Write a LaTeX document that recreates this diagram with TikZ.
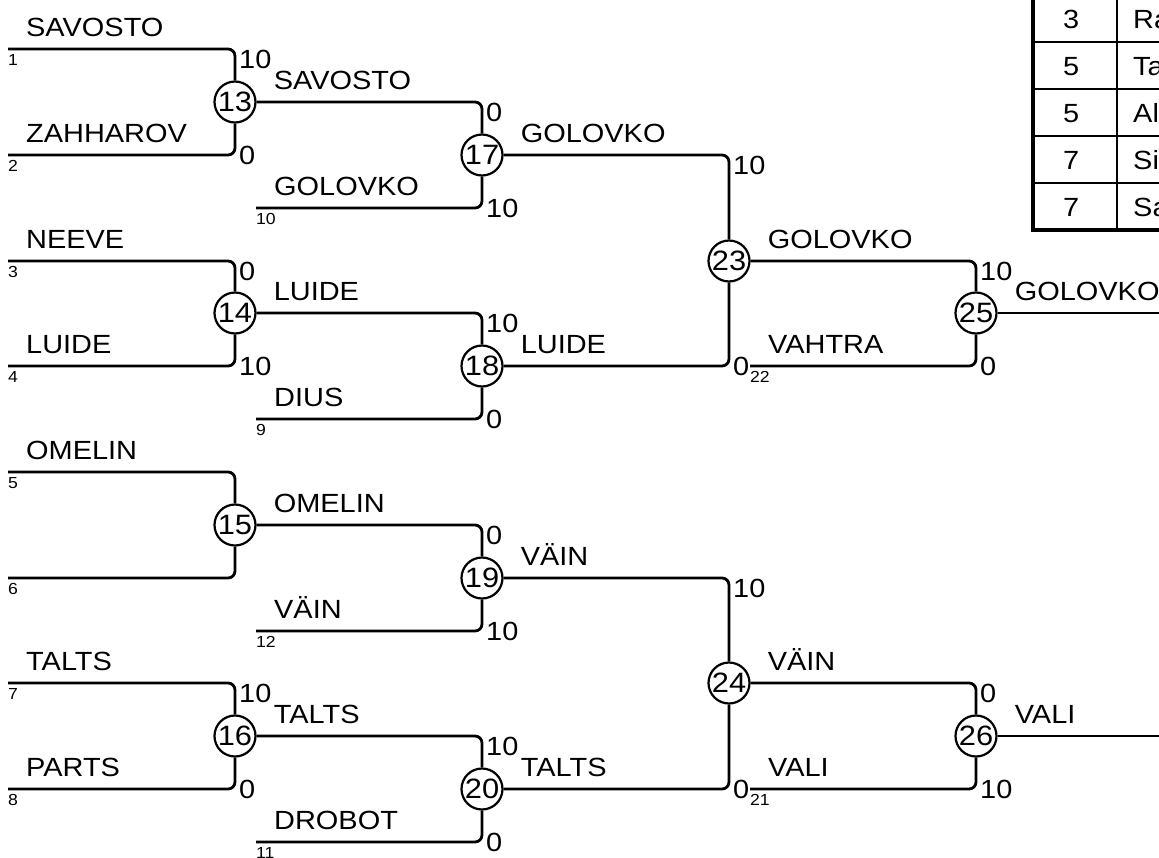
\documentclass[tikz,border=0pt]{standalone}
\usepackage{fontspec}
\setmainfont{Liberation Sans}[FakeStretch=1.1]
\usetikzlibrary{matrix,calc}
\newcommand{\bigfont}{\fontsize{26.3}{30}\selectfont}
\newcommand{\gamefont}{\fontsize{28}{30}\selectfont}
\newcommand{\seedfont}{\fontsize{16}{18}\selectfont}
\tikzset{
	game/.style     = {shape=circle, draw, line width=2.2pt,
		fill=white, minimum size=41pt,
		inner sep=0pt, font=\gamefont},
	bracket/.style  = {line width=2.8pt, rounded corners=7pt},
	player/.style   = {anchor=base west, inner sep=0pt, font=\bigfont},
	seed/.style     = {anchor=north west, inner sep=0pt, font=\seedfont},
	topscore/.style = {anchor=north west, inner sep=0pt, font=\bigfont},
	lowscore/.style = {anchor=west, inner sep=0pt, font=\bigfont}
}

\begin{document}
\begin{tikzpicture}[x=1pt,y=-1pt]
	\useasboundingbox (0,0) rectangle (1159,857);

	\foreach \g/\x/\y in {13/235/102, 14/235/313, 15/235/525, 16/235/736,
		17/482/155, 18/482/366, 19/482/578, 20/482/789,
		23/729/261, 24/729/683, 25/976/313, 26/976/736}
		\node[game] (g\g) at (\x,\y) {\g};

	\foreach \n/\x/\y/\who in {1/8/49/SAVOSTO, 2/8/155/ZAHHAROV,
		3/8/261/NEEVE, 4/8/366/LUIDE, 5/8/472/OMELIN,
		7/8/683/TALTS, 8/8/789/PARTS,
		10/256/208/GOLOVKO, 9/256/419/DIUS, 12/256/631/VÄIN, 11/256/842/DROBOT,
		22/750/366/VAHTRA, 21/750/789/VALI}{
		\coordinate (s\n) at (\x,\y);
		\node[seed]   (n\n) at ($(s\n)+(0,5)$)    {\n};
		\node[player] (p\n) at ($(s\n)+(18,-13)$) {\who};
	}
	\coordinate (s6) at (8,578);
	\node[seed] (n6) at ($(s6)+(0,5)$) {6};

	\foreach \a/\b in {s1/g13, s2/g13, s3/g14, s4/g14, s5/g15, s6/g15, s7/g16, s8/g16,
		g13/g17, s10/g17, g14/g18, s9/g18, g15/g19, s12/g19, g16/g20, s11/g20,
		g17/g23, g18/g23, g19/g24, g20/g24, g23/g25, s22/g25, g24/g26, s21/g26}
		\draw[bracket] (\a) -| (\b);

	\foreach \a/\b/\s in {s1/g13/10, s3/g14/0, s7/g16/10, g13/g17/0, g14/g18/10,
		g15/g19/0, g16/g20/10, g17/g23/10, g19/g24/10, g23/g25/10, g24/g26/0}
		\node[topscore] (t\b) at ($(\b |- \a)+(4,1)$) {\s};
	\foreach \a/\b/\s in {s2/g13/0, s4/g14/10, s8/g16/0, s10/g17/10, s9/g18/0,
		s12/g19/10, s11/g20/0, g18/g23/0, g20/g24/0, s22/g25/0, s21/g26/10}
		\node[lowscore] (l\b) at ($(\b |- \a)+(4,0)$) {\s};

	\foreach \g/\who in {13/SAVOSTO, 14/LUIDE, 15/OMELIN, 16/TALTS,
		17/GOLOVKO, 18/LUIDE, 19/VÄIN, 20/TALTS,
		23/GOLOVKO, 24/VÄIN, 25/GOLOVKO, 26/VALI}
		\node[player] (w\g) at ($(g\g.east)+(17,-13)$) {\who};

	\coordinate (end25) at (1170,313);
	\coordinate (end26) at (1170,736);
	\draw[bracket] (g25) -- (end25);
	\draw[bracket] (g26) -- (end26);

	\matrix (ranks)
	[
	matrix of nodes,
	anchor          = north west,
	inner sep       = 0pt,
	row sep         = 0pt,
	column sep      = 0pt,
	nodes           = {inner sep=0pt, outer sep=0pt, minimum height=47pt,
		text height=19pt, text depth=0pt, font=\bigfont},
	column 1/.style = {nodes={minimum width=84pt, align=center}},
	column 2/.style = {nodes={text width=90pt, inner xsep=16pt, align=left}}
	]
	at (1033,-5) {
	3 & Ra \\
	5 & Ta \\
	5 & Al \\
	7 & Si \\
	7 & Sa \\
};
	\foreach \r in {1,...,4}
		\draw[line width=2pt] (ranks-\r-1.south west) -- (ranks-\r-2.south east);
	\draw[line width=2pt] (ranks-1-1.north east) -- (ranks-5-1.south east);
	\draw[line width=4.5pt] (ranks-1-1.north west) rectangle (ranks-5-2.south east);
\end{tikzpicture}
\end{document}
